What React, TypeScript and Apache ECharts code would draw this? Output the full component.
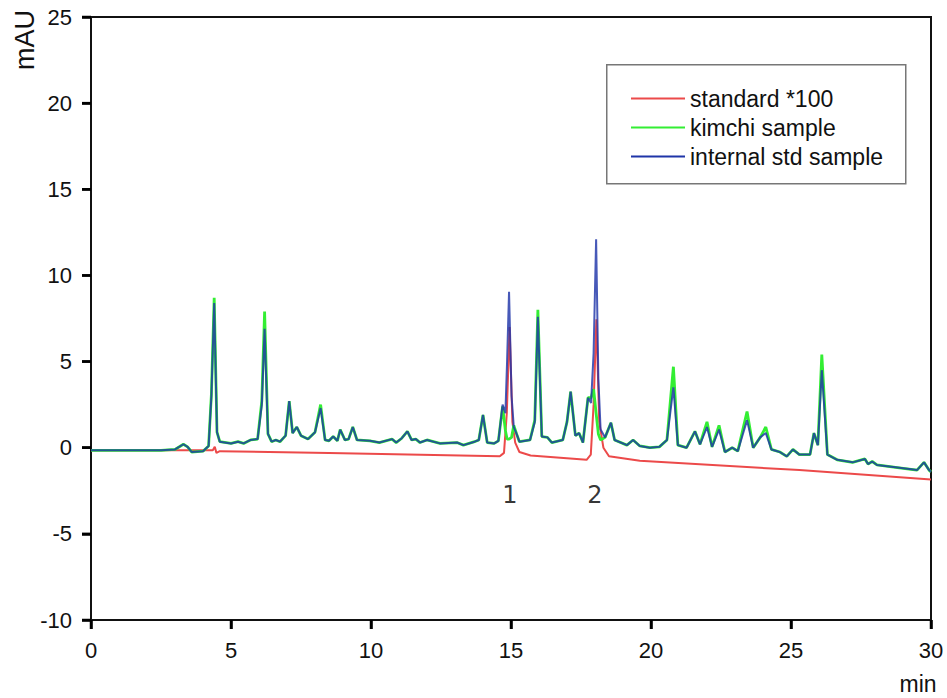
import React, { useEffect, useRef } from "react";
import * as echarts from "echarts";

// Retention time (min) shared by the two sample traces
const sampleTime = [
  0, 2.5, 3.0, 3.3, 3.45, 3.6, 4.0, 4.2, 4.3, 4.4, 4.5, 4.6, 5.0, 5.25, 5.45, 5.7, 5.95, 6.1, 6.2, 6.32,
  6.45, 6.6, 6.75, 6.95, 7.08, 7.2, 7.35, 7.5, 7.75, 8.0, 8.2, 8.36, 8.5, 8.65, 8.8, 8.9, 9.07, 9.2, 9.35, 9.5,
  9.96, 10.3, 10.75, 10.9, 11.1, 11.3, 11.45, 11.6, 11.75, 12.0, 12.46, 13.07, 13.3, 13.7, 13.85, 14.0, 14.15, 14.4, 14.55, 14.7,
  14.8, 14.86, 14.93, 15.02, 15.1, 15.2, 15.3, 15.68, 15.85, 15.96, 16.1, 16.3, 16.46, 16.85, 17.0, 17.13, 17.3, 17.43, 17.57, 17.75,
  17.86, 17.95, 18.04, 18.12, 18.2, 18.36, 18.57, 18.7, 19.14, 19.36, 19.6, 19.96, 20.3, 20.57, 20.8, 20.96, 21.27, 21.57, 21.75, 22.0,
  22.18, 22.43, 22.64, 22.9, 23.1, 23.43, 23.65, 23.9, 24.1, 24.3, 24.6, 24.85, 25.07, 25.3, 25.68, 25.82, 25.96, 26.1, 26.3, 26.65,
  27.2, 27.64, 27.75, 27.9, 28.07, 28.8, 29.5, 29.75, 29.93, 30,
];

// internal std sample (mAU)
const internalStd = [
  -0.15, -0.15, -0.1, 0.2, 0.05, -0.25, -0.2, 0.1, 3.0, 8.4, 0.9, 0.35, 0.25, 0.35, 0.25, 0.45, 0.5, 2.5, 6.9, 0.8,
  0.35, 0.45, 0.35, 0.7, 2.7, 0.85, 1.2, 0.7, 0.5, 0.9, 2.3, 0.45, 0.4, 0.65, 0.4, 1.05, 0.45, 0.5, 1.2, 0.45,
  0.4, 0.3, 0.5, 0.3, 0.55, 0.95, 0.45, 0.5, 0.3, 0.45, 0.25, 0.3, 0.15, 0.35, 0.45, 1.9, 0.3, 0.25, 0.4, 2.5,
  2.0, 5.0, 9.05, 3.0, 1.2, 0.8, 0.35, 0.45, 1.5, 7.6, 0.65, 0.6, 0.3, 0.45, 1.5, 3.25, 0.7, 0.85, 0.3, 2.9,
  2.6, 5.5, 12.1, 4.0, 1.05, 0.6, 1.45, 0.45, 0.15, 0.45, 0.1, 0.0, 0.05, 0.45, 3.5, 0.15, 0.0, 0.95, 0.2, 1.2,
  0.05, 1.05, -0.25, 0.0, -0.2, 1.6, 0.0, 0.6, 0.85, -0.1, -0.25, -0.5, -0.1, -0.4, -0.4, 0.85, 0.15, 4.5, -0.4, -0.7,
  -0.85, -0.65, -0.95, -0.8, -1.0, -1.15, -1.3, -0.85, -1.3, -1.4,
];

// kimchi sample (mAU)
const kimchi = [
  -0.15, -0.15, -0.1, 0.2, 0.05, -0.25, -0.2, 0.1, 3.1, 8.7, 0.9, 0.35, 0.25, 0.35, 0.25, 0.45, 0.5, 2.7, 7.9, 0.8,
  0.35, 0.45, 0.35, 0.7, 2.7, 0.85, 1.2, 0.7, 0.5, 0.9, 2.5, 0.45, 0.4, 0.65, 0.4, 1.05, 0.45, 0.5, 1.2, 0.45,
  0.4, 0.3, 0.5, 0.3, 0.55, 0.95, 0.45, 0.5, 0.3, 0.45, 0.25, 0.3, 0.15, 0.35, 0.45, 1.9, 0.3, 0.25, 0.4, 2.4,
  1.0, 0.5, 0.5, 0.6, 1.3, 0.8, 0.35, 0.45, 1.6, 8.0, 0.65, 0.6, 0.3, 0.45, 1.5, 3.25, 0.7, 0.85, 0.3, 2.9,
  2.9, 3.4, 2.0, 0.8, 0.45, 0.6, 1.45, 0.45, 0.15, 0.45, 0.1, 0.0, 0.05, 0.45, 4.7, 0.15, 0.0, 0.95, 0.2, 1.5,
  0.05, 1.3, -0.25, 0.0, -0.2, 2.1, 0.0, 0.6, 1.2, -0.1, -0.25, -0.5, -0.1, -0.4, -0.4, 0.85, 0.15, 5.4, -0.4, -0.7,
  -0.85, -0.65, -0.95, -0.8, -1.0, -1.15, -1.3, -0.85, -1.3, -1.4,
];

// standard *100
const standardTime = [
  0, 4.35, 4.42, 4.48, 4.6, 8.5, 14.6, 14.75, 14.85, 14.95, 15.05, 15.15, 15.3, 15.7, 17.7, 17.85, 17.95, 18.05, 18.15, 18.3,
  18.5, 19.6, 25.3, 30,
];
const standard = [
  -0.15, -0.15, 0.05, -0.3, -0.2, -0.3, -0.5, -0.3, 2.0, 7.0, 1.5, 0.3, -0.25, -0.45, -0.7, -0.4, 2.5, 7.45, 1.5, 0.0,
  -0.5, -0.75, -1.3, -1.85,
];

// peak labels
const peakNames = ["1", "2"];
const peakTime = [14.96, 18.0];
const peakLabelY = [-2.75, -2.75];

const seriesNames = ["standard *100", "kimchi sample", "internal std sample"];
const xTicks = { min: 0, max: 30, interval: 5 };
const yTicks = { min: -10, max: 25, interval: 5 };
const xTickValues = [0, 5, 10, 15, 20, 25, 30];
const yTickValues = [-10, -5, 0, 5, 10, 15, 20, 25];

const zip = (xs: number[], ys: number[]) => xs.map((x, i) => [x, ys[i]]);

export default function App() {
  const ref = useRef<HTMLDivElement>(null);
  useEffect(() => {
    if (!ref.current) return;
    const chart = echarts.init(ref.current, null, { renderer: "svg" });
    const font = "Arial, 'Liberation Sans', sans-serif";
    const tickLen = 9;
    const tickStroke = { stroke: "#000", lineWidth: 2.5 };
    chart.setOption({
      animation: false,
      backgroundColor: "#ffffff",
      grid: {
        left: 91,
        right: 16,
        top: 17,
        bottom: 78,
        show: true,
        borderColor: "#111",
        borderWidth: 2,
      },
      xAxis: {
        type: "value",
        ...xTicks,
        axisLine: { show: true, onZero: false, lineStyle: { color: "#111", width: 2 } },
        axisTick: { show: true, inside: false, length: tickLen, lineStyle: { color: "#000", width: 2.5 } },
        axisLabel: { fontSize: 22, color: "#111", fontFamily: font, margin: 19 },
        splitLine: { show: false },
      },
      yAxis: {
        type: "value",
        ...yTicks,
        axisLine: { show: true, onZero: false, lineStyle: { color: "#111", width: 2 } },
        axisTick: { show: true, inside: false, length: tickLen, lineStyle: { color: "#000", width: 2.5 } },
        axisLabel: { fontSize: 22, color: "#111", fontFamily: font, margin: 19 },
        splitLine: { show: false },
      },
      legend: {
        data: seriesNames,
        orient: "vertical",
        left: 626,
        top: 82,
        icon: "rect",
        itemWidth: 54,
        itemHeight: 2,
        itemGap: 6,
        textStyle: { fontSize: 23, color: "#111", fontFamily: font, lineHeight: 23 },
        selectedMode: false,
      },
      graphic: [
        {
          type: "rect",
          left: 606,
          top: 64,
          shape: { x: 0, y: 0, width: 299, height: 119 },
          style: { fill: "#fff", stroke: "#777", lineWidth: 1.5 },
          z: -1,
        },
        {
          type: "text",
          x: 25,
          y: 40,
          rotation: Math.PI / 2,
          style: {
            text: "mAU",
            fontSize: 27,
            fontFamily: font,
            fill: "#111",
            align: "center",
            verticalAlign: "middle",
          },
        },
        {
          type: "text",
          x: 918,
          y: 684,
          style: {
            text: "min",
            fontSize: 23,
            fontFamily: font,
            fill: "#111",
            align: "center",
            verticalAlign: "middle",
          },
        },
      ],
      series: [
        {
          name: seriesNames[0],
          type: "line",
          data: zip(standardTime, standard),
          showSymbol: false,
          symbol: "none",
          lineStyle: { color: "#ec4a4a", width: 2 },
          itemStyle: { color: "#ec4a4a" },
          z: 2,
        },
        {
          name: seriesNames[1],
          type: "line",
          data: zip(sampleTime, kimchi),
          showSymbol: false,
          symbol: "none",
          lineStyle: { color: "#33ee33", width: 2.8 },
          itemStyle: { color: "#33ee33" },
          z: 3,
        },
        {
          name: seriesNames[2],
          type: "line",
          data: zip(sampleTime, internalStd),
          showSymbol: false,
          symbol: "none",
          lineStyle: { color: "#1f35a8", width: 2, opacity: 0.82 },
          itemStyle: { color: "#1f35a8" },
          z: 4,
        },
        {
          name: "peaks",
          type: "scatter",
          data: peakTime.map((t, i) => ({ value: [t, peakLabelY[i]], name: peakNames[i] })),
          symbolSize: 1,
          itemStyle: { color: "rgba(0,0,0,0)" },
          label: {
            show: true,
            position: "inside",
            formatter: "{b}",
            fontSize: 24,
            fontFamily: "'DejaVu Sans', sans-serif",
            color: "#000",
          },
          z: 5,
        },
        {
          name: "xTickMarks",
          type: "custom",
          clip: false,
          silent: true,
          data: xTickValues.map((v) => [v, yTicks.min]),
          renderItem: (_params: any, api: any) => {
            const p = api.coord([api.value(0), api.value(1)]);
            return {
              type: "line",
              shape: { x1: p[0], y1: p[1], x2: p[0], y2: p[1] + tickLen },
              style: tickStroke,
            };
          },
          z: 10,
        },
        {
          name: "yTickMarks",
          type: "custom",
          clip: false,
          silent: true,
          data: yTickValues.map((v) => [xTicks.min, v]),
          renderItem: (_params: any, api: any) => {
            const p = api.coord([api.value(0), api.value(1)]);
            return {
              type: "line",
              shape: { x1: p[0], y1: p[1], x2: p[0] - tickLen, y2: p[1] },
              style: tickStroke,
            };
          },
          z: 10,
        },
      ],
    });
    return () => chart.dispose();
  }, []);
  return (
    <div
      ref={ref}
      style={{ position: "fixed", left: 0, top: 0, width: 947, height: 698, background: "#fff" }}
    />
  );
}
